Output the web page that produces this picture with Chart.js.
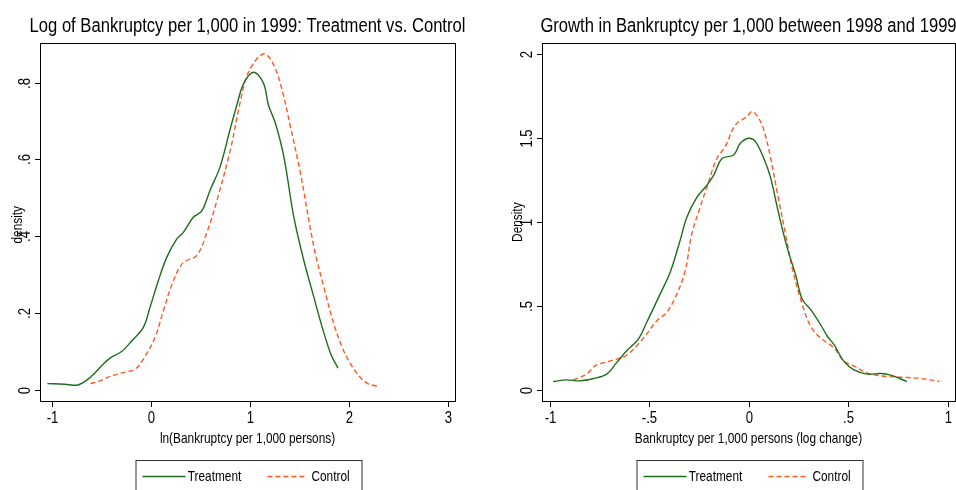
<!DOCTYPE html>
<html lang="en">
<head>
<meta charset="UTF-8">
<title>Bankruptcy densities</title>
<script src="https://cdn.jsdelivr.net/npm/chart.js"></script>
<style>
  body { margin: 0; background: #fff; }
  canvas { position: absolute; top: 0; }
</style>
</head>
<body>
<canvas id="leftChart" width="480" height="490" style="left:0"></canvas>
<canvas id="rightChart" width="476" height="490" style="left:480px"></canvas>
<script>
// ---- data ----
const leftTitle = 'Log of Bankruptcy per 1,000 in 1999: Treatment vs. Control';
const leftXLabel = 'ln(Bankruptcy per 1,000 persons)';
const leftYLabel = 'density';
const leftXTicks = [-1, 0, 1, 2, 3];
const leftYTicks = [0, 0.2, 0.4, 0.6, 0.8];
const leftYTickText = ['0', '.2', '.4', '.6', '.8'];

const leftTreatX = [-1.044, -0.868, -0.733, -0.615, -0.48, -0.41, -0.294, -0.19, -0.074, -0.007, 0.078, 0.162, 0.264, 0.33, 0.432, 0.517, 0.60, 0.70, 0.80, 0.87, 0.94, 1.04, 1.14, 1.19, 1.26, 1.345, 1.446, 1.547, 1.649, 1.733, 1.82, 1.892];
const leftTreatY = [0.0165, 0.015, 0.013, 0.032, 0.067, 0.083, 0.100, 0.128, 0.163, 0.215, 0.285, 0.345, 0.393, 0.41, 0.45, 0.466, 0.52, 0.58, 0.676, 0.741, 0.798, 0.827, 0.798, 0.741, 0.694, 0.607, 0.45, 0.337, 0.241, 0.163, 0.093, 0.057];
const leftCtrlX = [-0.608, -0.514, -0.395, -0.277, -0.159, -0.074, 0.044, 0.128, 0.23, 0.33, 0.466, 0.568, 0.669, 0.804, 0.905, 0.99, 1.142, 1.243, 1.328, 1.412, 1.514, 1.649, 1.75, 1.851, 1.936, 2.02, 2.12, 2.19, 2.307];
const leftCtrlY = [0.0165, 0.0235, 0.0366, 0.045, 0.054, 0.080, 0.137, 0.206, 0.285, 0.332, 0.35, 0.41, 0.493, 0.624, 0.75, 0.828, 0.875, 0.846, 0.78, 0.685, 0.563, 0.372, 0.267, 0.171, 0.11, 0.067, 0.032, 0.0174, 0.008];

const rightTitle = 'Growth in Bankruptcy per 1,000 between 1998 and 1999';
const rightXLabel = 'Bankruptcy per 1,000 persons (log change)';
const rightYLabel = 'Density';
const rightXTicks = [-1, -0.5, 0, 0.5, 1];
const rightXTickText = ['-1', '-.5', '0', '.5', '1'];
const rightYTicks = [0, 0.5, 1, 1.5, 2];
const rightYTickText = ['0', '.5', '1', '1.5', '2'];

const rightTreatX = [-0.983, -0.916, -0.849, -0.78, -0.714, -0.664, -0.613, -0.555, -0.513, -0.445, -0.395, -0.345, -0.311, -0.26, -0.21, -0.176, -0.134, -0.076, -0.042, 0, 0.034, 0.076, 0.109, 0.151, 0.193, 0.235, 0.269, 0.311, 0.361, 0.395, 0.429, 0.479, 0.529, 0.597, 0.664, 0.714, 0.795];
const rightTreatY = [0.05, 0.06, 0.054, 0.068, 0.094, 0.163, 0.233, 0.303, 0.402, 0.572, 0.70, 0.89, 1.03, 1.15, 1.22, 1.28, 1.38, 1.40, 1.47, 1.50, 1.48, 1.38, 1.27, 1.05, 0.85, 0.69, 0.54, 0.48, 0.39, 0.32, 0.27, 0.17, 0.12, 0.094, 0.098, 0.088, 0.05];
const rightCtrlX = [-0.882, -0.815, -0.773, -0.714, -0.655, -0.613, -0.555, -0.513, -0.462, -0.412, -0.361, -0.319, -0.286, -0.244, -0.21, -0.16, -0.118, -0.067, -0.008, 0.017, 0.05, 0.076, 0.109, 0.151, 0.185, 0.218, 0.269, 0.311, 0.361, 0.429, 0.479, 0.529, 0.597, 0.664, 0.731, 0.798, 0.866, 0.958];
const rightCtrlY = [0.06, 0.094, 0.143, 0.167, 0.187, 0.207, 0.273, 0.333, 0.412, 0.462, 0.572, 0.711, 0.93, 1.09, 1.21, 1.38, 1.45, 1.58, 1.63, 1.66, 1.62, 1.55, 1.39, 1.13, 0.93, 0.73, 0.51, 0.38, 0.31, 0.25, 0.17, 0.143, 0.10, 0.084, 0.078, 0.074, 0.068, 0.05];

const seriesNames = ['Treatment', 'Control'];

// ---- look ----
const GREEN = '#1c6e1c';
const ORANGE = '#ff5722';
const FONT = '"Liberation Sans", Arial, sans-serif';

function pts(xs, ys) {
    return xs.map((x, i) => ({ x: x, y: ys[i] }));
}

// the original uses a narrow face, so squeeze Liberation Sans horizontally
function text(ctx, str, x, y, size, rotate, squeeze) {
    ctx.save();
    ctx.font = size + 'px ' + FONT;
    ctx.fillStyle = '#000';
    ctx.textAlign = 'center';
    ctx.textBaseline = 'middle';
    ctx.translate(x, y);
    if (rotate) ctx.rotate(-Math.PI / 2);
    ctx.scale(squeeze || 0.79, 1);
    ctx.fillText(str, 0, 0);
    ctx.restore();
}

// draws the Stata-like frame, ticks, labels, title and legend
const stataPlugin = {
    id: 'stata',
    afterDraw(chart, args, o) {
        const ctx = chart.ctx;
        const a = chart.chartArea;
        const xs = chart.scales.x, ys = chart.scales.y;
        const cx = (a.left + a.right) / 2;
        ctx.save();
        ctx.strokeStyle = '#000';
        ctx.lineWidth = 1;
        ctx.strokeRect(a.left + 0.5, a.top + 0.5, a.right - a.left, a.bottom - a.top);

        o.xTicks.forEach((v, i) => {
            const px = Math.round(xs.getPixelForValue(v)) + 0.5;
            ctx.beginPath();
            ctx.moveTo(px, a.bottom);
            ctx.lineTo(px, a.bottom + 6);
            ctx.stroke();
            text(ctx, o.xTickText[i], px, a.bottom + 18, 16, false, 0.82);
        });
        o.yTicks.forEach((v, i) => {
            const py = Math.round(ys.getPixelForValue(v)) + 0.5;
            ctx.beginPath();
            ctx.moveTo(a.left, py);
            ctx.lineTo(a.left - 5, py);
            ctx.stroke();
            text(ctx, o.yTickText[i], a.left - 14, py, 16, true, 0.82);
        });

        text(ctx, o.xLabel, cx, a.bottom + 38, 15);
        text(ctx, o.yLabel, o.yLabelX, ys.getPixelForValue(o.yLabelAt), 15, true);
        text(ctx, o.title, cx, 26, 20, false, 0.83);

        // legend box
        const lw = 226, top = a.bottom + 59;
        const lx = cx - lw / 2 + 1;
        ctx.strokeStyle = '#333';
        ctx.strokeRect(lx + 0.5, top + 0.5, lw, 40);
        const ly = top + 16.5;
        ctx.lineWidth = 1.5;
        ctx.strokeStyle = GREEN;
        ctx.beginPath();
        ctx.moveTo(lx + 7, ly); ctx.lineTo(lx + 50, ly);
        ctx.stroke();
        ctx.strokeStyle = ORANGE;
        ctx.setLineDash([5, 3]);
        ctx.beginPath();
        ctx.moveTo(lx + 132, ly); ctx.lineTo(lx + 170, ly);
        ctx.stroke();
        ctx.setLineDash([]);
        ctx.restore();
        text(ctx, o.names[0], lx + 79, ly, 15);
        text(ctx, o.names[1], lx + 195, ly, 15);
    }
};

function makeChart(id, cfg) {
    return new Chart(document.getElementById(id), {
        type: 'scatter',
        data: {
            datasets: [
                { label: seriesNames[0], data: cfg.treat, borderColor: GREEN, borderWidth: 1.4,
                  showLine: true, pointRadius: 0, tension: 0.35 },
                { label: seriesNames[1], data: cfg.ctrl, borderColor: ORANGE, borderWidth: 1.4,
                  borderDash: [5, 3], showLine: true, pointRadius: 0, tension: 0.35 }
            ]
        },
        options: {
            responsive: false,
            animation: false,
            devicePixelRatio: 1,
            layout: { padding: cfg.padding },
            scales: {
                x: { type: 'linear', display: false, min: cfg.xMin, max: cfg.xMax },
                y: { type: 'linear', display: false, min: cfg.yMin, max: cfg.yMax }
            },
            plugins: {
                legend: { display: false },
                tooltip: { enabled: false },
                stata: cfg.deco
            }
        },
        plugins: [stataPlugin]
    });
}

makeChart('leftChart', {
    treat: pts(leftTreatX, leftTreatY),
    ctrl: pts(leftCtrlX, leftCtrlY),
    padding: { left: 40, top: 43, right: 25, bottom: 89 },
    xMin: -1.118, xMax: 3.074, yMin: -0.0287, yMax: 0.903,
    deco: {
        xTicks: leftXTicks, xTickText: leftXTicks.map(String),
        yTicks: leftYTicks, yTickText: leftYTickText,
        xLabel: leftXLabel, yLabel: leftYLabel, yLabelX: 18, yLabelAt: 0.43,
        title: leftTitle, names: seriesNames
    }
});

makeChart('rightChart', {
    treat: pts(rightTreatX, rightTreatY),
    ctrl: pts(rightCtrlX, rightCtrlY),
    padding: { left: 62, top: 43, right: 1, bottom: 89 },
    xMin: -1.039, xMax: 1.037, yMin: -0.066, yMax: 2.068,
    deco: {
        xTicks: rightXTicks, xTickText: rightXTickText,
        yTicks: rightYTicks, yTickText: rightYTickText,
        xLabel: rightXLabel, yLabel: rightYLabel, yLabelX: 38, yLabelAt: 1.0,
        title: rightTitle, names: seriesNames
    }
});
</script>
</body>
</html>
